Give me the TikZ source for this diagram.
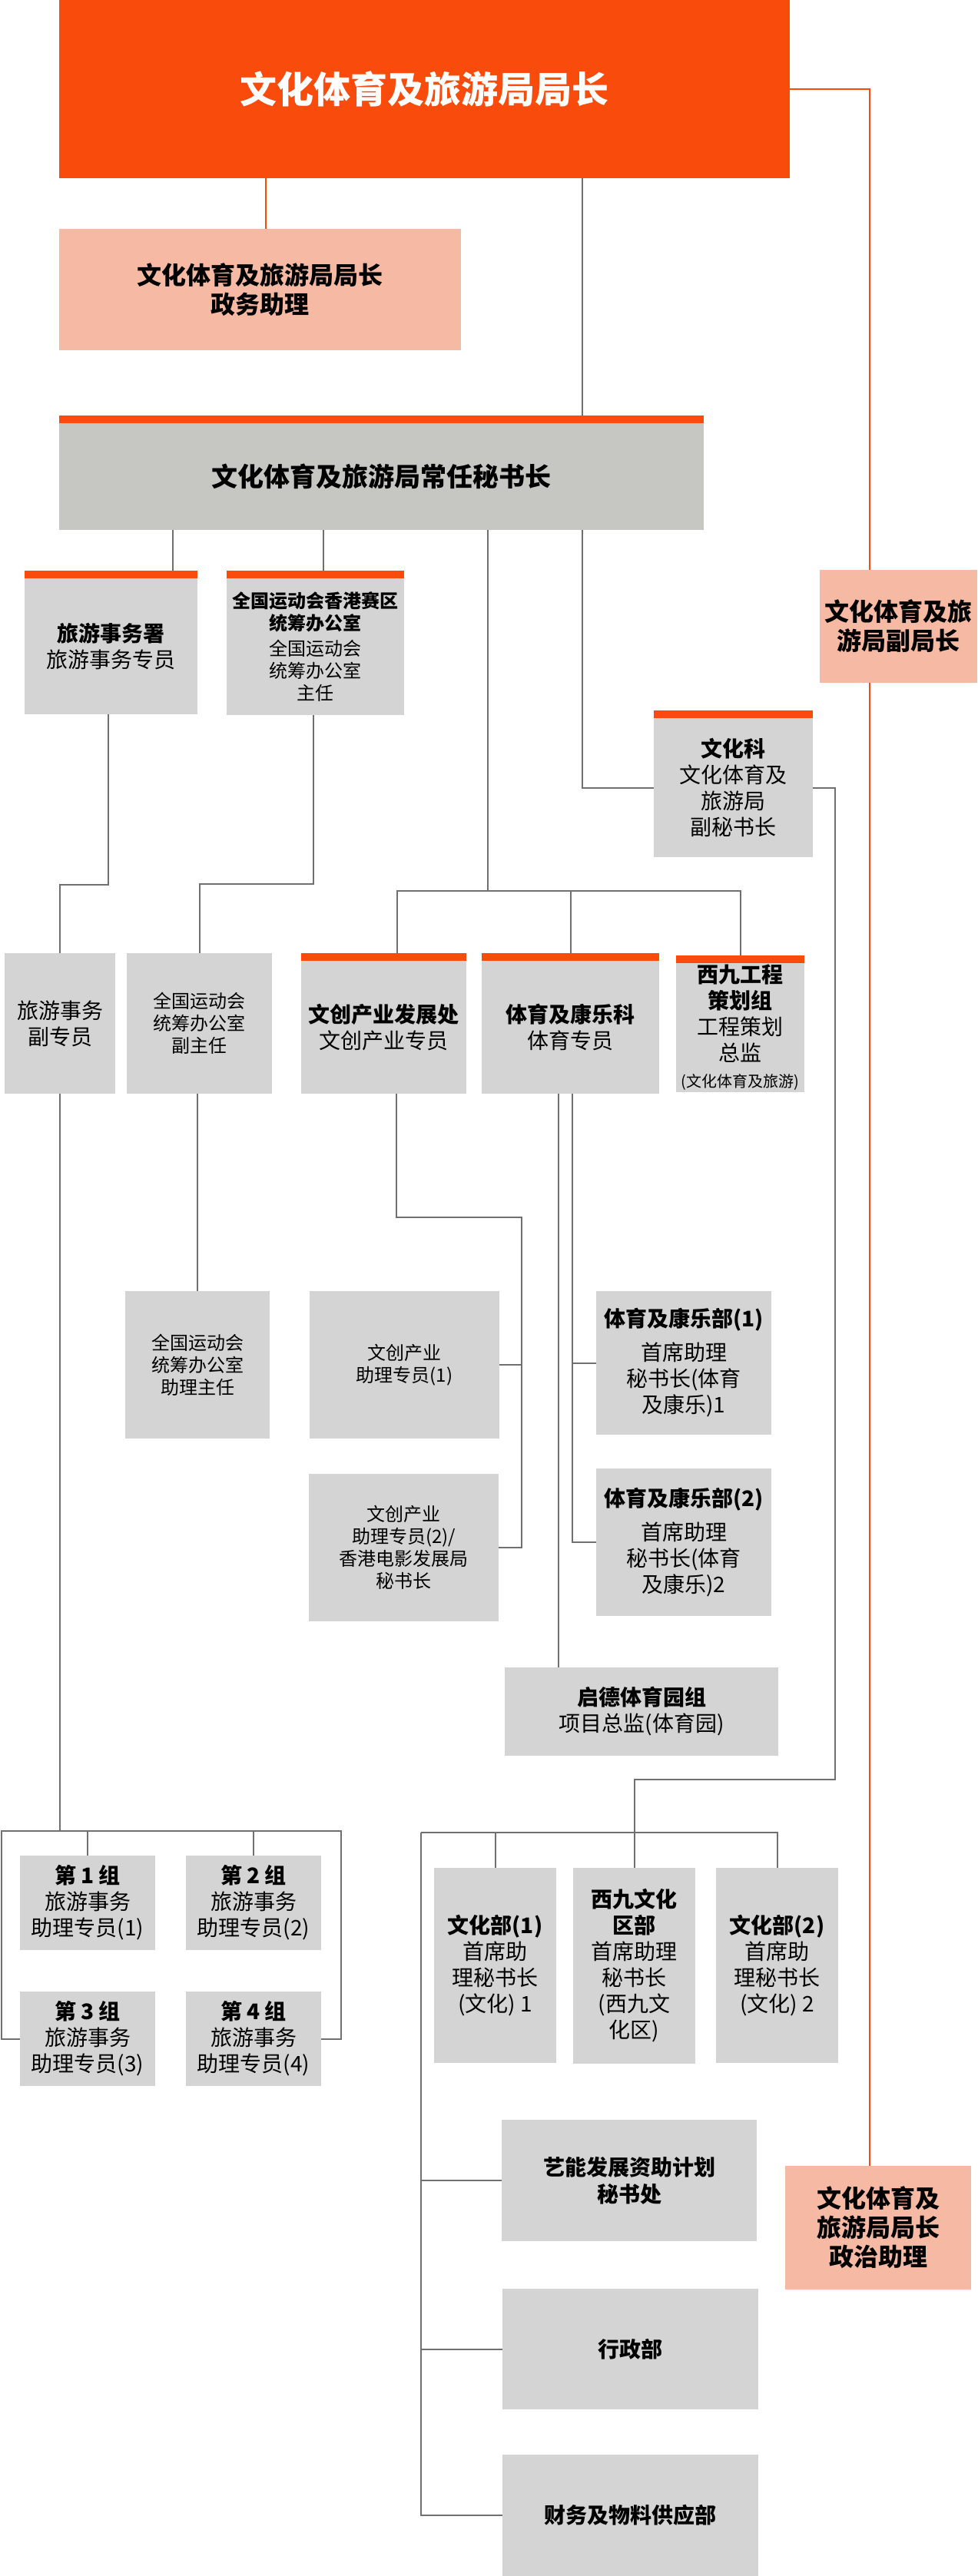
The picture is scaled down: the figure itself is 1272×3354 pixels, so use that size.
\documentclass[tikz,border=0pt]{standalone}
\usepackage{fontspec}
\setmainfont{Noto Sans CJK SC}
\usepackage{tikz}
\usetikzlibrary{positioning}

\definecolor{hkorange}{HTML}{F94B0B}
\definecolor{salmon}{HTML}{F6B9A3}
\definecolor{psgray}{HTML}{C6C7C3}
\definecolor{boxgray}{HTML}{D4D4D4}
\definecolor{linegray}{HTML}{707070}

\pgfdeclarelayer{background}
\pgfsetlayers{background,main}

\begin{document}
\begin{tikzpicture}[x=1pt, y=-1pt,
    box/.style={fill=boxgray, inner sep=2pt, outer sep=0pt, align=center, text=black,
    font=\fontsize{28}{34}\selectfont},
    headbox/.style={box, append after command={
    ([yshift=5pt]\tikzlastnode.north west) edge[draw=hkorange, line width=10pt]
    ([yshift=5pt]\tikzlastnode.north east)}},
    smalltext/.style={font=\fontsize{24}{29}\selectfont},
    boldtext/.style={font=\fontsize{28}{35}\selectfont\bfseries},
    aidebox/.style={box, fill=salmon, font=\fontsize{32}{38}\selectfont\bfseries},
    wh/.style 2 args={minimum width=#1pt, minimum height=#2pt},
    conn/.style={draw=linegray, line width=2pt},
    redline/.style={draw=hkorange, line width=2pt},
    ]

    \useasboundingbox (0,0) rectangle (1272,3354);

    \node[box, fill=hkorange, text=white, font=\fontsize{48}{58}\selectfont\bfseries, wh={951}{232}] (main) at (552.5,116) {文化体育及旅游局局长};
    \node[aidebox, wh={523}{158}] (asst) at (338.5,377) {文化体育及旅游局局长\\政务助理};
    \node[headbox, fill=psgray, font=\fontsize{34}{40}\selectfont\bfseries, wh={839}{139}] (ps) at (496.5,620.5) {文化体育及旅游局常任秘书长};
    \node[aidebox, wh={205}{147}] (dep) at (1169.5,815.5) {文化体育及旅\\游局副局长};

    \node[headbox, wh={225}{177}] (tour) at (144.5,841.5) {\textbf{旅游事务署}\\旅游事务专员};
    \node[headbox, smalltext, wh={231}{178}] (ngo) at (410.5,842) {\textbf{全国运动会香港赛区}\\\textbf{统筹办公室}\\[4pt]全国运动会\\统筹办公室\\主任};
    \node[headbox, wh={207}{181}] (cul) at (954.5,1025.5) {\textbf{文化科}\\文化体育及\\旅游局\\副秘书长};

    \node[box, wh={144}{183}] (tourdep) at (78,1332.5) {旅游事务\\副专员};
    \node[box, smalltext, wh={189}{183}] (ngodep) at (259.5,1332.5) {全国运动会\\统筹办公室\\副主任};
    \node[headbox, wh={215}{173}] (ci) at (499.5,1337.5) {\textbf{文创产业发展处}\\文创产业专员};
    \node[headbox, wh={231}{173}] (sr) at (742.5,1337.5) {\textbf{体育及康乐科}\\体育专员};
    \node[headbox, wh={167}{168}] (wk) at (963.5,1338) {\textbf{西九工程}\\\textbf{策划组}\\工程策划\\总监\\{\fontsize{20}{28}\selectfont(文化体育及旅游)}};

    \node[box, smalltext, wh={188}{192}] (ngoasst) at (257,1777) {全国运动会\\统筹办公室\\助理主任};
    \node[box, smalltext, wh={247}{192}] (ci1) at (526.5,1777) {文创产业\\助理专员(1)};
    \node[box, smalltext, wh={247}{192}] (ci2) at (525.5,2015) {文创产业\\助理专员(2)/\\香港电影发展局\\秘书长};
    \node[box, wh={228}{187}] (sr1) at (890,1774.5) {\textbf{体育及康乐部(1)}\\[10pt]首席助理\\秘书长(体育\\及康乐)1};
    \node[box, wh={228}{192}] (sr2) at (890,2008) {\textbf{体育及康乐部(2)}\\[10pt]首席助理\\秘书长(体育\\及康乐)2};
    \node[box, wh={356}{115}] (kt) at (835,2228.5) {\textbf{启德体育园组}\\项目总监(体育园)};

    \foreach \n/\x/\y in {1/114/2477.5, 2/330/2477.5, 3/114/2654.5, 4/330/2654.5}
        \node[box, wh={176}{123}] (g\n) at (\x,\y) {\textbf{第 \n\ 组}\\旅游事务\\助理专员(\n)};

    \node[box, wh={159}{254}] (cd1) at (644.5,2559) {\textbf{文化部(1)}\\首席助\\理秘书长\\(文化) 1};
    \node[box, wh={159}{255}] (wkd) at (825.5,2559.5) {\textbf{西九文化}\\\textbf{区部}\\首席助理\\秘书长\\(西九文\\化区)};
    \node[box, wh={159}{254}] (cd2) at (1011.5,2559) {\textbf{文化部(2)}\\首席助\\理秘书长\\(文化) 2};
    \node[box, boldtext, wh={332}{158}] (arts) at (819,2839) {艺能发展资助计划\\秘书处};
    \node[box, boldtext, wh={333}{157}] (adm) at (820.5,3058.5) {行政部};
    \node[box, boldtext, wh={333}{158}] (fin) at (820.5,3275) {财务及物料供应部};
    \node[aidebox, wh={242}{161}] (pol) at (1143,2900.5) {文化体育及\\旅游局局长\\政治助理};

    \begin{pgfonlayer}{background}
    \draw[redline] (346,0 |- main.south) -- (346,0 |- asst.north);
    \draw[redline] (main.east) -| (1132,0 |- dep.north);
    \draw[redline] (1132,0 |- dep.south) -- (1132,0 |- pol.north);

    \draw[conn] (758,0 |- main.south) -- (758,0 |- ps.north);
    \draw[conn] (225,0 |- ps.south) -- (225,0 |- tour.north);
    \draw[conn] (421,0 |- ps.south) -- (421,0 |- ngo.north);
    \draw[conn] (758,0 |- ps.south) |- (cul.west);

    \coordinate (sbus) at (635,1160);
    \draw[conn] (635,0 |- ps.south) -- (sbus);
    \draw[conn] (517,0 |- ci.north) |- (sbus) -| (wk.north);
    \draw[conn] (sr.north) -- (sr.north |- sbus);

    \draw[conn] (141,0 |- tour.south) -- (141,1152) -| (tourdep.north);
    \draw[conn] (408,0 |- ngo.south) -- (408,1151) -| (ngodep.north);
    \draw[conn] (ngoasst.north |- ngodep.south) -- (ngoasst.north);

    \draw[conn] (516,0 |- ci.south) |- (679,1585) |- (ci2.east);
    \draw[conn] (ci1.east) -- (679,0 |- ci1.east);
    \draw[conn] (727,0 |- sr.south) -- (727,0 |- kt.north);
    \draw[conn] (745,0 |- sr.south) |- (sr2.west);
    \draw[conn] (sr1.west) -- (745,0 |- sr1.west);

    \coordinate (gbus) at (2,2384);
    \draw[conn] (tourdep.south) -- (tourdep.south |- gbus);
    \draw[conn] (g3.west) -| (gbus) -| (444,0 |- g4.east) -- (g4.east);
    \draw[conn] (g1.north) -- (g1.north |- gbus);
    \draw[conn] (g2.north) -- (g2.north |- gbus);

    \coordinate (cbus) at (548,2386);
    \draw[conn] (cul.east) -| (1087,2317) -| (wkd.north);
    \draw[conn] (cbus) -| (cd1.north);
    \draw[conn] (cbus) -| (cd2.north);
    \draw[conn] (cbus) |- (arts.west);
    \draw[conn] (cbus) |- (adm.west);
    \draw[conn] (cbus) |- (fin.west);
    \end{pgfonlayer}
\end{tikzpicture}
\end{document}
